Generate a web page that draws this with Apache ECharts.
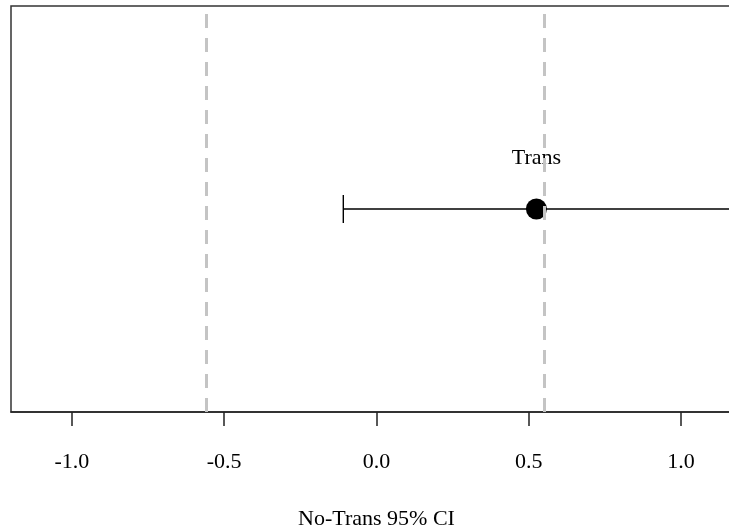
<!DOCTYPE html>
<html>
<head>
<meta charset="utf-8">
<style>
  html, body { margin: 0; padding: 0; background: #fff; }
  #chart { width: 729px; height: 529px; }
</style>
<script src="https://cdn.jsdelivr.net/npm/echarts@6/dist/echarts.min.js"></script>
</head>
<body>
<div id="chart"></div>
<script>
// Estimate with its 95% interval
var labels = ['Trans'];
var estimates = [0.525];
var lowerCI = [-0.109];
var upperCI = [1.18];
// Reference bounds of the No-Trans interval
var refBounds = [-0.557, 0.55];
// Axis ticks
var tickValues = [-1.0, -0.5, 0.0, 0.5, 1.0];

var serif = '"Liberation Serif", "Times New Roman", serif';

var chart = echarts.init(document.getElementById('chart'));

var intervalData = labels.map(function (name, i) {
  return [lowerCI[i], upperCI[i], 1];
});
var pointData = labels.map(function (name, i) {
  return { value: [estimates[i], 1], name: name };
});

chart.setOption({
  backgroundColor: '#fff',
  animation: false,
  grid: {
    show: true,
    left: 11,
    top: 6,
    bottom: 117,
    right: -13,
    outerBoundsMode: 'none',
    containLabel: false,
    borderColor: '#333',
    borderWidth: 1.5,
    backgroundColor: 'transparent'
  },
  xAxis: {
    type: 'value',
    min: -1.2,
    max: 1.2,
    name: 'No-Trans 95% CI',
    nameLocation: 'middle',
    nameGap: 96,
    nameTextStyle: { fontFamily: serif, fontSize: 22, color: '#000' },
    splitLine: { show: false },
    axisLine: { show: true, onZero: false, lineStyle: { color: '#222', width: 1.5 } },
    axisTick: {
      show: true,
      length: 14,
      customValues: tickValues,
      lineStyle: { color: '#222', width: 1.5 }
    },
    axisLabel: {
      show: true,
      margin: 39,
      customValues: tickValues,
      fontFamily: serif,
      fontSize: 22,
      color: '#000',
      formatter: function (v) { return v.toFixed(1); }
    }
  },
  yAxis: {
    type: 'value',
    min: 0,
    max: 2,
    show: false
  },
  series: [
    {
      type: 'custom',
      clip: false,
      data: intervalData,
      renderItem: function (params, api) {
        var lo = api.coord([api.value(0), api.value(2)]);
        var hi = api.coord([api.value(1), api.value(2)]);
        var cap = 14;
        var style = { stroke: '#000', lineWidth: 1.4 };
        return {
          type: 'group',
          children: [
            { type: 'line', shape: { x1: lo[0], y1: lo[1], x2: hi[0], y2: hi[1] }, style: style },
            { type: 'line', shape: { x1: lo[0], y1: lo[1] - cap, x2: lo[0], y2: lo[1] + cap }, style: style },
            { type: 'line', shape: { x1: hi[0], y1: hi[1] - cap, x2: hi[0], y2: hi[1] + cap }, style: style }
          ]
        };
      },
      z: 2
    },
    {
      type: 'scatter',
      data: pointData,
      symbol: 'circle',
      symbolSize: 21,
      itemStyle: { color: '#000', opacity: 1 },
      label: {
        show: true,
        position: 'top',
        distance: 29,
        formatter: '{b}',
        fontFamily: serif,
        fontSize: 22,
        color: '#000'
      },
      markLine: {
        silent: true,
        symbol: 'none',
        label: { show: false },
        lineStyle: { color: '#c4c4c4', type: [14, 10], width: 3 },
        data: refBounds.map(function (v) { return { xAxis: v }; })
      },
      z: 3
    }
  ]
});
</script>
</body>
</html>
